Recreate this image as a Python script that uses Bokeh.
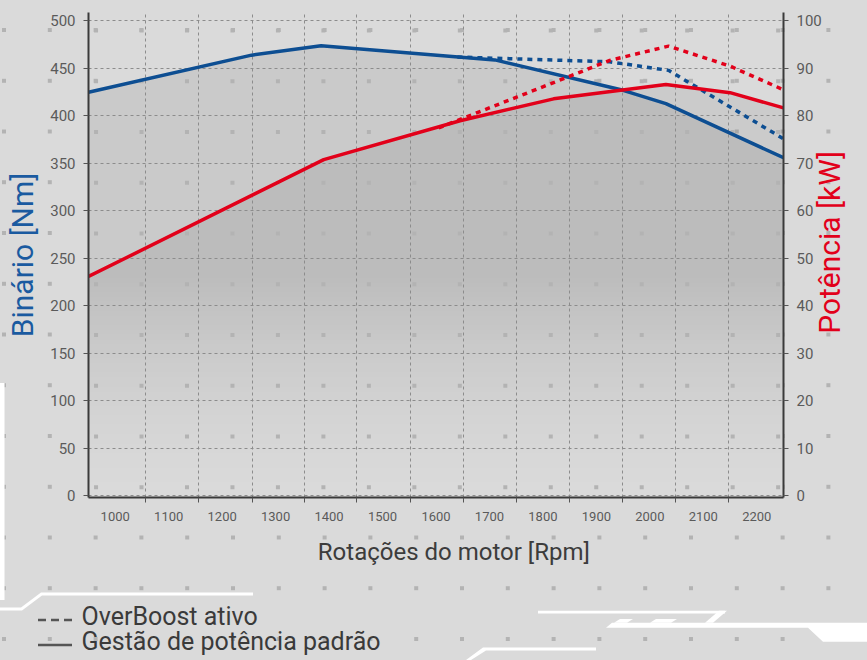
import math
from urllib.parse import quote
from bokeh.plotting import figure
from bokeh.models import Range1d, LinearAxis, FixedTicker, Title
from bokeh.embed import file_html
from bokeh.resources import INLINE

# ---------------- data ----------------
rpm_ticks = [1000, 1100, 1200, 1300, 1400, 1500, 1600, 1700, 1800, 1900, 2000, 2100, 2200]
torque_ticks = [0, 50, 100, 150, 200, 250, 300, 350, 400, 450, 500]
power_ticks = [0, 10, 20, 30, 40, 50, 60, 70, 80, 90, 100]

# standard power management (solid)
rpm_torque_std = [950, 1255, 1385, 1710, 1950, 2030, 2250]
torque_std = [425, 464, 474, 459, 427, 413, 356]
rpm_power_std = [950, 1390, 1645, 1820, 2030, 2150, 2250]
power_std = [46.2, 70.8, 79.0, 83.6, 86.6, 84.9, 81.7]

# OverBoost active (dotted)
rpm_torque_ob = [1640, 1925, 2035, 2250]
torque_ob = [462, 457, 448, 376]
rpm_power_ob = [1605, 1815, 1925, 2035, 2150, 2250]
power_ob = [77.5, 86.8, 91.7, 94.7, 90.5, 85.5]

legend_labels = ["OverBoost ativo", "Gestão de potência padrão"]

# ---------------- styling ----------------
BG = "#dadada"
DOT = "#b3b3b3"
BLUE = "#0d4e92"
RED = "#e2001a"
FONT = "Roboto"
NBSP = "\u00a0"
W, H = 867, 660
FL, FR, FT, FB = 88, 788, 12, 497          # frame edges in canvas pixels
X0, X1, Y0, Y1 = 950, 2250, -1.6, 508.9
grid_rpm = [1056, 1155, 1256, 1354, 1452, 1553, 1651, 1750, 1850, 1949, 2048, 2148]

# decorative background (dots, white traces, legend line samples) as a CSS background image
dot_cols = [4 + 45.8 * k for k in range(19)]
dot_rows = [30 + 50.75 * k for k in range(13)]
white_shapes = [
    [(0, 383), (4.5, 383), (4.5, 600), (0, 600)],
    [(0, 607.5), (21, 607.5), (41, 592.5), (253, 592.5), (253, 595.5), (42, 595.5), (22, 610.5), (0, 610.5)],
    [(538, 610.7), (725, 610.7), (725, 613.5), (538, 613.5)],
    [(719, 610.7), (727, 610.7), (713, 622.7), (705, 622.7)],
    [(614, 622.7), (620, 619), (633, 619), (627, 622.7)],
    [(650, 622.7), (656, 619), (677, 619), (671, 622.7)],
    [(606, 627.7), (612, 622.7), (867, 622.7), (867, 641.7), (823, 641.7), (808, 627.7)],
    [(466, 660), (483, 647.5), (596, 647.5), (596, 650.5), (486, 650.5), (471, 660)],
]
svg = [f'<svg xmlns="http://www.w3.org/2000/svg" width="{W}" height="{H}">']
for cy in dot_rows:
    for cx in dot_cols:
        svg.append(f'<rect x="{cx-2:.1f}" y="{cy-2:.1f}" width="4" height="4" fill="{DOT}"/>')
for pts in white_shapes:
    svg.append('<polygon points="' + " ".join(f"{x},{y}" for x, y in pts) + '" fill="#ffffff"/>')
# legend samples
svg.append('<line x1="38" y1="620" x2="72" y2="620" stroke="#555555" stroke-width="2.5" stroke-dasharray="8 5"/>')
svg.append('<line x1="38" y1="645" x2="72" y2="645" stroke="#555555" stroke-width="2.5"/>')
svg.append("</svg>")
bg_url = 'url("data:image/svg+xml,' + quote("".join(svg)) + '")'

p = figure(width=W, height=H, x_range=Range1d(X0, X1), y_range=Range1d(Y0, Y1),
           output_backend="svg", toolbar_location=None,
           min_border_left=FL, min_border_right=W - FR, min_border_top=FT, min_border_bottom=H - FB)
p.extra_y_ranges = {"power": Range1d(Y0 / 5, Y1 / 5)}
p.background_fill_alpha = 0
p.border_fill_alpha = 0
p.outline_line_color = None
p.styles = {"background-color": BG, "background-image": bg_url,
            "background-repeat": "no-repeat", "background-position": "0 0"}

# shaded areas
p.varea(x=rpm_torque_std, y1=0, y2=torque_std, fill_color="#cacaca", level="image")
p.varea(x=rpm_power_std, y1=0, y2=power_std, fill_color="black", fill_alpha=0.065,
        y_range_name="power", level="image")
# vertical fade of the shading towards the bottom (opaque bands)
step, vmax = 5.0, 235.0
nb = int(vmax / step)
bb, bt, bc = [], [], []
for k in range(nb):
    lo, hi = k * step, (k + 1) * step
    mid = (lo + hi) / 2
    g = int(round(218 - 30 * (mid / vmax) ** 1.5))
    bb.append(lo)
    bt.append(hi + (1.5 if k < nb - 1 else 0))
    bc.append("#%02x%02x%02x" % (g, g, g))
p.quad(left=X0, right=X1, bottom=bb, top=bt, fill_color=bc, line_color=None, level="image")

# dots that sit over the shaded area (same pattern as the background)
fx = (X1 - X0) / (FR - FL)
fy = (Y1 - Y0) / (FB - FT)
dx, dy = [], []
for cy in dot_rows:
    for cx in dot_cols:
        if FL < cx < FR and FT < cy < FB:
            dx.append(X0 + (cx - FL) * fx)
            dy.append(Y0 + (FB - cy) * fy)
p.scatter(dx, dy, marker="square", size=4, fill_color=DOT, line_color=None)

# lines
p.line(rpm_torque_std, torque_std, line_color=BLUE, line_width=3.5)
p.line(rpm_torque_ob, torque_ob, line_color=BLUE, line_width=3.5, line_dash="5 5")
p.line(rpm_power_std, power_std, line_color=RED, line_width=3.5, y_range_name="power")
p.line(rpm_power_ob, power_ob, line_color=RED, line_width=3.5, line_dash="5 5", y_range_name="power")

# x axis
xa = p.xaxis[0]
xa.ticker = FixedTicker(ticks=rpm_ticks, minor_ticks=grid_rpm)
xa.major_tick_line_color = None
xa.major_tick_out = 0
xa.major_tick_in = 0
xa.minor_tick_line_color = "#555555"
xa.minor_tick_out = 5
xa.minor_tick_in = 0
xa.axis_line_color = "#3a3a3a"
xa.axis_line_width = 2
xa.major_label_text_font = FONT
xa.major_label_text_font_size = "13px"
xa.major_label_text_color = "#5a5a5a"
xa.major_label_standoff = 9
xa.axis_label = NBSP * 6 + "Rotações do motor [Rpm]"
xa.axis_label_text_font = FONT
xa.axis_label_text_font_size = "24px"
xa.axis_label_text_font_style = "normal"
xa.axis_label_text_color = "#3c3c3c"
xa.axis_label_standoff = 14

p.xgrid.ticker = xa.ticker
p.xgrid.grid_line_color = None
p.xgrid.minor_grid_line_color = "#8c8c8c"
p.xgrid.minor_grid_line_dash = "3 3"
p.xgrid.minor_grid_line_width = 1

# left axis
ya = p.yaxis[0]
ya.ticker = FixedTicker(ticks=torque_ticks)
ya.major_tick_out = 5
ya.major_tick_in = 0
ya.major_tick_line_color = "#555555"
ya.minor_tick_line_color = None
ya.axis_line_color = "#3a3a3a"
ya.axis_line_width = 2
ya.major_label_text_font = FONT
ya.major_label_text_font_size = "15px"
ya.major_label_text_color = "#5a5a5a"
ya.major_label_standoff = 8
ya.axis_label = "Binário [Nm]"
ya.axis_label_text_font = FONT
ya.axis_label_text_font_size = "30px"
ya.axis_label_text_font_style = "normal"
ya.axis_label_text_color = "#1a5aa0"
ya.axis_label_standoff = 7

p.ygrid.ticker = ya.ticker
p.ygrid.grid_line_color = "#8c8c8c"
p.ygrid.grid_line_dash = "3 3"
p.ygrid.grid_line_width = 1

# right axis
ra = LinearAxis(y_range_name="power", ticker=FixedTicker(ticks=power_ticks))
ra.major_tick_out = 5
ra.major_tick_in = 0
ra.major_tick_line_color = "#555555"
ra.minor_tick_line_color = None
ra.axis_line_color = "#3a3a3a"
ra.axis_line_width = 2
ra.major_label_text_font = FONT
ra.major_label_text_font_size = "15px"
ra.major_label_text_color = "#5a5a5a"
ra.major_label_standoff = 8
ra.axis_label_text_font = FONT
ra.axis_label_text_font_size = "30px"
ra.axis_label_text_font_style = "normal"
ra.axis_label_text_color = RED
ra.axis_label_standoff = 5
ra.axis_label_orientation = math.pi / 2
try:
    ra.axis_label_align = "start"
    ra.axis_label = NBSP * 22 + "Potência [kW]"
except AttributeError:
    ra.axis_label = "Potência [kW]"
p.add_layout(ra, "right")

# invisible spacer below the x axis (keeps the legend text low without shrinking the frame)
spacer = LinearAxis(ticker=FixedTicker(ticks=[1600]), major_label_overrides={1600: ""},
                    axis_line_color=None, major_tick_line_color=None, minor_tick_line_color=None,
                    major_tick_out=31, major_tick_in=0, minor_tick_out=0, minor_tick_in=0,
                    major_label_standoff=0, major_label_text_font_size="0px")
p.add_layout(spacer, "below")

# legend texts (line samples are in the background image)
leg = Title(text="\n".join(legend_labels), align="left", offset=-7, standoff=0,
            text_font=FONT, text_font_size="25px", text_font_style="normal",
            text_color="#3a3a3a", text_line_height=0.88)
p.add_layout(leg, "below")

open("out.html", "w").write(file_html(p, INLINE))
